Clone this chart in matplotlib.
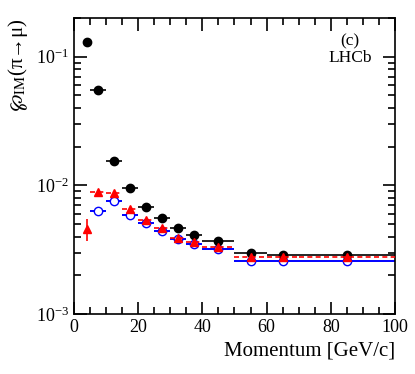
import matplotlib
matplotlib.use("Agg")
import matplotlib.pyplot as plt
from matplotlib.ticker import MultipleLocator, LogLocator, NullFormatter

plt.rcParams['font.family'] = ['Liberation Serif', 'DejaVu Serif']
plt.rcParams['mathtext.fontset'] = 'stix'

# bin centres and half-widths [GeV/c]
x_black = [4, 7.5, 12.5, 17.5, 22.5, 27.5, 32.5, 37.5, 45, 55, 65, 85]
xerr_black = [0, 2.5, 2.5, 2.5, 2.5, 2.5, 2.5, 2.5, 5, 5, 5, 15]
y_black = [0.131, 0.055, 0.0156, 0.0095, 0.00674, 0.00563, 0.00468, 0.00411,
           0.00369, 0.00299, 0.0029, 0.0029]

x_red = [4, 7.5, 12.5, 17.5, 22.5, 27.5, 32.5, 37.5, 45, 55, 65, 85]
xerr_red = [0, 2.5, 2.5, 2.5, 2.5, 2.5, 2.5, 2.5, 5, 5, 5, 15]
y_red = [0.00458, 0.0089, 0.0088, 0.00655, 0.00535, 0.00466, 0.00393, 0.00362,
         0.00335, 0.0028, 0.0028, 0.0028]
yerr_red = [0.0009, 0, 0, 0, 0, 0, 0, 0, 0, 0, 0, 0]

x_blue = [7.5, 12.5, 17.5, 22.5, 27.5, 32.5, 37.5, 45, 55, 65, 85]
xerr_blue = [2.5, 2.5, 2.5, 2.5, 2.5, 2.5, 2.5, 5, 5, 5, 15]
y_blue = [0.00628, 0.0076, 0.0059, 0.0051, 0.00443, 0.00387, 0.00352,
          0.00318, 0.00258, 0.00258, 0.00258]

fig = plt.figure(figsize=(4.15, 3.74), dpi=100)
ax = fig.add_axes([0.178, 0.160, 0.774, 0.792])

ax.errorbar(x_black, y_black, xerr=xerr_black, fmt='o', color='black',
            ms=6, elinewidth=1.2, capsize=0, zorder=3)
eb = ax.errorbar(x_red, y_red, xerr=xerr_red, yerr=yerr_red, fmt='^', color='red',
                 ms=6, elinewidth=1.2, capsize=0, zorder=4)
eb[2][0].set_linestyle((0, (3, 2)))
ax.errorbar(x_blue, y_blue, xerr=xerr_blue, fmt='o', mfc='white', mec='blue',
            color='blue', ms=6, mew=1.0, elinewidth=1.4, capsize=0, zorder=2)

ax.set_yscale('log')
ax.set_xlim(0, 100)
ax.set_ylim(1e-3, 0.2)

ax.xaxis.set_major_locator(MultipleLocator(20))
ax.xaxis.set_minor_locator(MultipleLocator(5))
ax.yaxis.set_major_locator(LogLocator(base=10, numticks=10))
ax.yaxis.set_minor_locator(LogLocator(base=10, subs=range(2, 10), numticks=20))
ax.yaxis.set_minor_formatter(NullFormatter())
ax.tick_params(which='both', direction='in', top=True, right=True, width=1.2,
               labelsize=13)
ax.tick_params(which='major', length=9)
ax.tick_params(which='minor', length=5)
for s in ax.spines.values():
    s.set_linewidth(1.2)

ax.set_xlabel('Momentum [GeV/c]', fontsize=15, loc='right')
ax.set_ylabel(r'$\wp_{\rm IM}$(π→μ)', fontsize=15, loc='top')

ax.text(0.86, 0.92, '(c)', transform=ax.transAxes, ha='center', va='center',
        fontsize=12.5)
ax.text(0.86, 0.865, 'LHCb', transform=ax.transAxes, ha='center', va='center',
        fontsize=12.5)

fig.savefig('out.png', dpi=100)
